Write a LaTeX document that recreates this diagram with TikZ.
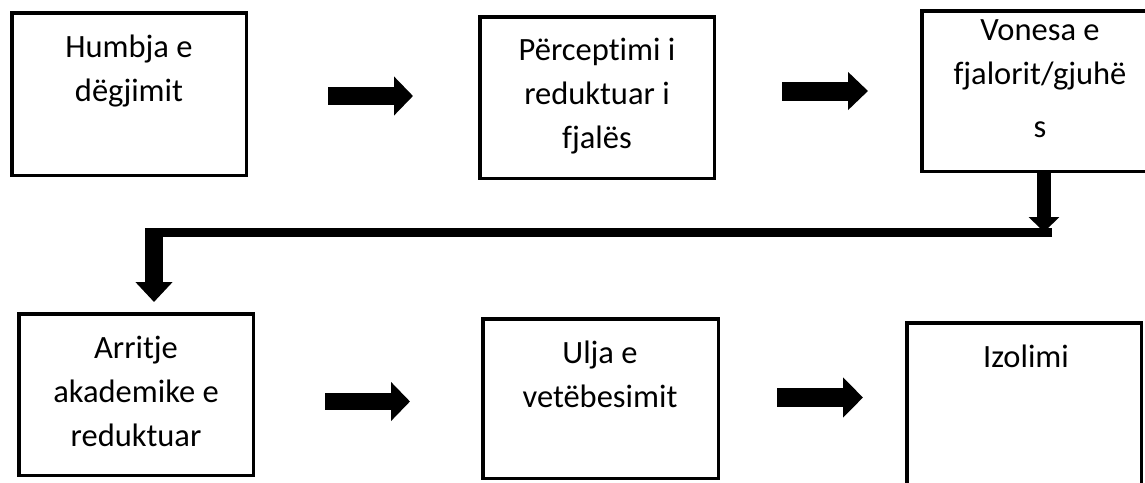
\documentclass[tikz,border=0pt]{standalone}
\usepackage{fontspec}
\setmainfont{Carlito}[Ligatures={NoCommon}]
\usetikzlibrary{arrows.meta}
\tikzset{
  box/.style={draw=black, line width=3.5pt, fill=white, inner sep=0pt},
  txt/.style={align=center, inner sep=0pt, font=\fontsize{32.5}{44}\selectfont, anchor=base},
  blockarrow/.style={line width=#1, draw=black},
  rhead/.style={-{Triangle[length=19pt,width=38pt]}},
}
\begin{document}
\begin{tikzpicture}[x=1pt,y=-1pt]
\useasboundingbox (0,0) rectangle (1145,482);
\clip (0,0) rectangle (1145,482);
\fill[white] (0,0) rectangle (1145,482);

% boxes
\node[box, minimum width=234.5pt, minimum height=162.5pt] (b1) at (129,94) {};
\node[box, minimum width=234.5pt, minimum height=161.5pt] (b2) at (597,97.5) {};
\node[box, minimum width=234.5pt, minimum height=160.5pt] (b3) at (1039,91) {};
\node[box, minimum width=234.5pt, minimum height=161.5pt] (b4) at (136,394.5) {};
\node[box, minimum width=235.5pt, minimum height=159.5pt] (b5) at (600.5,398.5) {};
\node[box, minimum width=234.5pt, minimum height=175pt] (b6) at (1024,410.5) {};

% texts (anchor = baseline of last line)
\node[txt] (t1) at (129,101) {Humbja e\\dëgjimit};
\node[txt] (t2) at (597,148) {Përceptimi i\\reduktuar i\\fjalës};
\node[txt] (t3) at (1040,137) {Vonesa e\\fjalorit/gjuhë\\[9pt]s};
\node[txt] (t4) at (136,446) {Arritje\\akademike e\\reduktuar};
\node[txt] (t5) at (600,407) {Ulja e\\vetëbesimit};
\node[txt] (t6) at (1026,367) {Izolimi};

% arrow end points
\coordinate (a1s) at (328,96);   \coordinate (a1e) at (413,96);
\coordinate (a2s) at (782,91);   \coordinate (a2e) at (868,91);
\coordinate (a3s) at (325,401.5);\coordinate (a3e) at (410,401.5);
\coordinate (a4s) at (777,397.5);\coordinate (a4e) at (863,397.5);
\coordinate (dtip) at (1044,232);
\coordinate (hr) at (1052,232.5);
\coordinate (hl) at (145,232.5);
\coordinate (vtop) at (154,228);
\coordinate (vtip) at (154,302);

% horizontal arrows
\draw[blockarrow=18pt, rhead] (a1s) -- (a1e);
\draw[blockarrow=19pt, -{Triangle[length=20pt,width=37pt]}] (a2s) -- (a2e);
\draw[blockarrow=17pt, rhead] (a3s) -- (a3e);
\draw[blockarrow=19pt, -{Triangle[length=20pt,width=39pt]}] (a4s) -- (a4e);

% down arrow from b3
\draw[blockarrow=14pt, -{Triangle[length=15pt,width=30pt]}] (b3.south -| dtip) -- (dtip);
% long horizontal line
\draw[blockarrow=9pt] (hr) -- (hl);
% down arrow to b4
\draw[blockarrow=18pt, -{Triangle[length=20pt,width=36pt]}] (vtop) -- (vtip);
\end{tikzpicture}
\end{document}
